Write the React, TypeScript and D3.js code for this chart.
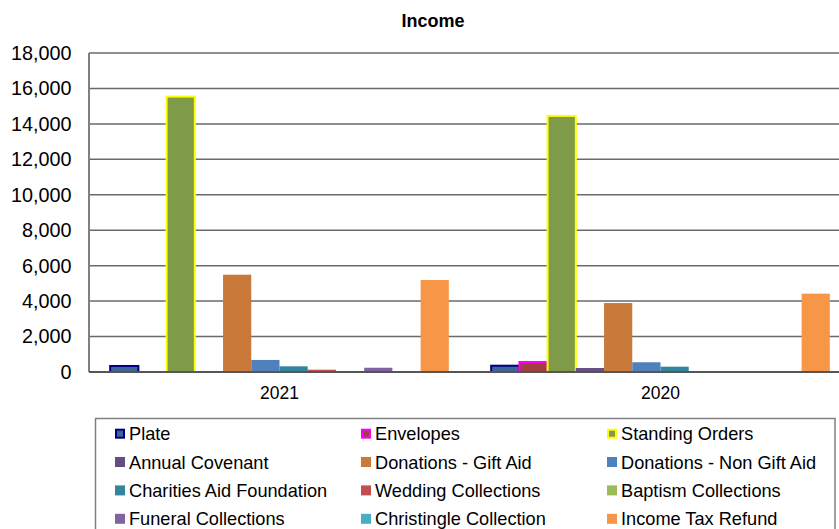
import React from "react";
import * as d3 from "d3";

const categories = ["2021", "2020"];
const seriesNames = [
  "Plate",
  "Envelopes",
  "Standing Orders",
  "Annual Covenant",
  "Donations - Gift Aid",
  "Donations - Non Gift Aid",
  "Charities Aid Foundation",
  "Wedding Collections",
  "Baptism Collections",
  "Funeral Collections",
  "Christingle Collection",
  "Income Tax Refund",
];
const values2021 = [340, 0, 15540, 0, 5490, 680, 320, 130, 0, 240, 0, 5190];
const values2020 = [355, 565, 14450, 225, 3890, 550, 300, 0, 0, 0, 0, 4420];
const fills = [
  "#3F6496", "#A0413F", "#7F9A48", "#654E84", "#C97A3A", "#4F81BD",
  "#31859C", "#C0504D", "#9BBB59", "#8064A2", "#4BACC6", "#F79646",
];
const strokes = ["#000080", "#FF00FF", "#FFFF00", null, null, null, null, null, null, null, null, null];
const yTicks = [0, 2000, 4000, 6000, 8000, 10000, 12000, 14000, 16000, 18000];

const W = 839;
const H = 529;
const plotLeft = 89;
const plotRight = 851;
const plotTop = 53;
const plotBottom = 372;
const font = "'Liberation Sans', Arial, Helvetica, sans-serif";

export default function App() {
  const valuesByCat = [values2021, values2020];
  const x0 = d3.scaleBand<string>().domain(categories).range([plotLeft, plotRight]);
  const x1 = d3
    .scaleBand<string>()
    .domain(seriesNames)
    .range([0, x0.bandwidth()])
    .paddingInner(0)
    .paddingOuter(0.75);
  const y = d3.scaleLinear().domain([0, 18000]).range([plotBottom, plotTop]);
  const fmt = d3.format(",");

  const legendLeft = 95.5;
  const legendTop = 418.5;
  const colX = [115, 361, 607];
  const rowY = [433.7, 462, 490.4, 518.8];

  return (
    <svg
      width={W}
      height={H}
      style={{ position: "absolute", left: 0, top: 0, background: "#fff" }}
      fontFamily={font}
    >
      <rect x={0} y={0} width={W} height={H} fill="#fff" />
      <text x={433} y={27} textAnchor="middle" fontSize={18} fontWeight="bold" fill="#000">
        Income
      </text>
      {yTicks.map((t) => (
        <g key={t}>
          {t > 0 && (
            <line
              x1={plotLeft}
              x2={plotRight}
              y1={y(t)}
              y2={y(t)}
              stroke="#6a6a6a"
              strokeWidth={1.5}
            />
          )}
          <text
            x={71.5}
            y={y(t)}
            dy="0.35em"
            textAnchor="end"
            fontSize={19.8}
            fill="#000"
          >
            {fmt(t)}
          </text>
        </g>
      ))}
      <line x1={plotLeft} x2={plotLeft} y1={plotTop} y2={plotBottom} stroke="#808080" strokeWidth={2} />
      {categories.map((c, ci) => (
        <g key={c} transform={`translate(${x0(c)},0)`}>
          {seriesNames.map((s, si) => {
            const v = valuesByCat[ci][si];
            if (!v) return null;
            const st = strokes[si];
            return (
              <rect
                key={s}
                x={x1(s)!}
                y={y(v)}
                width={x1.bandwidth()}
                height={plotBottom - y(v)}
                fill={fills[si]}
                stroke={st || "none"}
                strokeWidth={st ? 2 : 0}
              />
            );
          })}
          <text
            x={x0.bandwidth() / 2}
            y={399}
            textAnchor="middle"
            fontSize={17.5}
            fill="#000"
          >
            {c}
          </text>
        </g>
      ))}
      <line x1={plotLeft} x2={plotRight} y1={plotBottom} y2={plotBottom} stroke="#555" strokeWidth={2} />
      <rect
        x={legendLeft}
        y={legendTop}
        width={835 - legendLeft}
        height={140}
        fill="#fff"
        stroke="#808080"
        strokeWidth={1.5}
      />
      {seriesNames.map((s, si) => {
        const cx = colX[si % 3];
        const cy = rowY[Math.floor(si / 3)];
        const st = strokes[si];
        return (
          <g key={s}>
            <rect
              x={cx + (st ? 1 : 0)}
              y={cy - 5 + (st ? 1 : 0)}
              width={st ? 8 : 10}
              height={st ? 8 : 10}
              fill={fills[si]}
              stroke={st || "none"}
              strokeWidth={st ? 2 : 0}
            />
            <text x={cx + 14} y={cy} dy="0.36em" fontSize={18.2} fill="#000">
              {s}
            </text>
          </g>
        );
      })}
    </svg>
  );
}
